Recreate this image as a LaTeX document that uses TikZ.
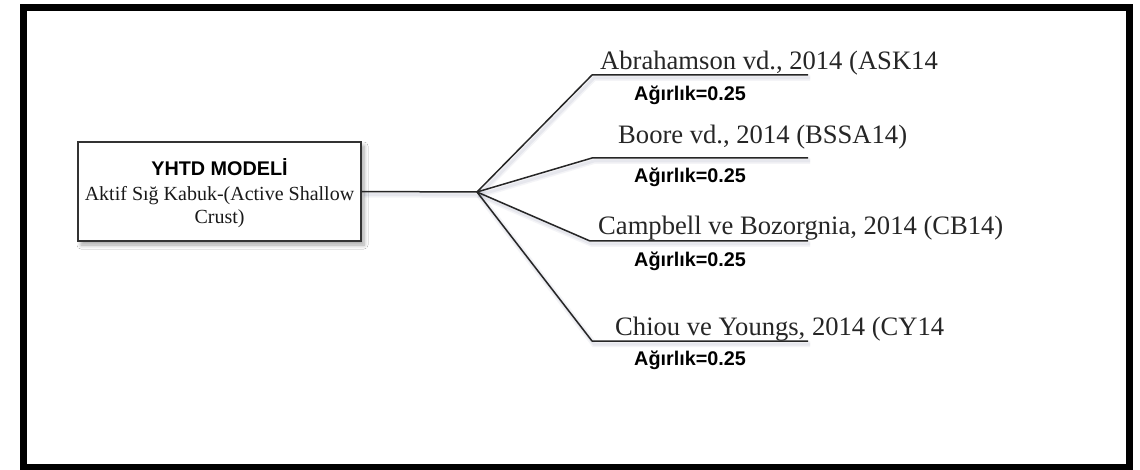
\documentclass[tikz,border=0pt]{standalone}
\usepackage{fontspec}
\setmainfont{Liberation Serif}
\newfontfamily\headsans{Liberation Sans}
\usetikzlibrary{shadows.blur}

\definecolor{shadowc}{RGB}{70,80,120}

\begin{document}
\begin{tikzpicture}[x=1pt,y=-1pt,
  frame/.style={draw=black,line width=7pt},
  modelbox/.style={draw=black!80,line width=1.3pt,fill=white,minimum width=283pt,minimum height=99pt,
    inner sep=0pt,align=center,
    blur shadow={shadow xshift=3pt,shadow yshift=-4pt,shadow blur steps=6,shadow blur radius=4pt,shadow opacity=35}},
  branch/.style={draw=black!85,line width=1.5pt,line join=round,
    preaction={draw=shadowc,line width=6pt,draw opacity=0.06,transform canvas={shift={(2pt,-3pt)}}},
    preaction={draw=shadowc,line width=3pt,draw opacity=0.08,transform canvas={shift={(2pt,-3pt)}}}},
  lbl/.style={anchor=base west,inner sep=0pt,font=\fontsize{26.6}{30}\selectfont,text=black!85},
  wt/.style={anchor=base west,inner sep=0pt,font=\headsans\bfseries\fontsize{19.8}{22}\selectfont,text=black},
]
\useasboundingbox (0,0) rectangle (1140,470);
\fill[white] (0,0) rectangle (1140,470);

% outer frame
\draw[frame] (23.5,8) rectangle (1129.5,467.5);

% model box
\node[modelbox] (model) at (219.5,191.5) {};
\node[anchor=base,inner sep=0pt,font=\headsans\bfseries\fontsize{19.8}{22}\selectfont] (title) at (219.5,176) {YHTD MODEL\.{I}};
\node[anchor=base,inner sep=0pt,font=\fontsize{20}{23}\selectfont,align=center,text=black!90] (sub) at (219.5,224)
  {Aktif Sığ Kabuk-(Active Shallow\\Crust)};

% fan point and branch corners
\coordinate (fan) at (477,192);
\coordinate (c1) at (592,75);  \coordinate (e1) at (808,75);
\coordinate (c2) at (592,158); \coordinate (e2) at (808,158);
\coordinate (c3) at (590,241); \coordinate (e3) at (808,241);
\coordinate (c4) at (592,341); \coordinate (e4) at (808,341);

\draw[branch] (model.east) -- (fan);
\draw[branch] (fan) -- (c1) -- (e1);
\draw[branch] (fan) -- (c2) -- (e2);
\draw[branch] (fan) -- (c3) -- (e3);
\draw[branch] (fan) -- (c4) -- (e4);

% branch labels and weights
\node[lbl] (ask)  at (600,70)  {Abrahamson vd., 2014 (ASK14};
\node[wt]  (w1)   at (634,101) {Ağırlık=0.25};
\node[lbl] (bssa) at (618,144) {Boore vd., 2014 (BSSA14)};
\node[wt]  (w2)   at (634,183) {Ağırlık=0.25};
\node[lbl] (cb)   at (598,235) {Campbell ve Bozorgnia, 2014 (CB14)};
\node[wt]  (w3)   at (634,267) {Ağırlık=0.25};
\node[lbl] (cy)   at (615,335) {Chiou ve Youngs, 2014 (CY14};
\node[wt]  (w4)   at (634,365) {Ağırlık=0.25};
\end{tikzpicture}
\end{document}
